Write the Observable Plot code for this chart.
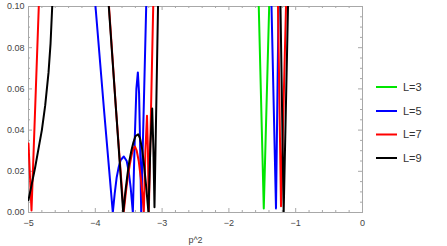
<!DOCTYPE html>
<html><head><meta charset="utf-8">
<script src="https://cdn.jsdelivr.net/npm/d3@7"></script>
<script src="https://cdn.jsdelivr.net/npm/@observablehq/plot@0.6"></script>
<style>
body{margin:0;background:#fff;font-family:"Liberation Sans",Arial,sans-serif}
#chart{position:relative;width:447px;height:246px}
</style>
</head><body><div id="chart"></div>
<script>
// Series (null = break where the curve leaves the visible range)
const seriesNames = ["L=3", "L=5", "L=7", "L=9"];
const seriesColors = ["#00e600", "#0000ff", "#ff0000", "#000000"];

const L3_x = [-1.56, -1.553, -1.478, -1.397, -1.39];
const L3_y = [0.11, 0.10, 0.002, 0.10, 0.11];

const L5_x = [-4.004, -3.997, -3.87, -3.738, -3.71, -3.68, -3.65, -3.62, -3.573, -3.53, -3.50, -3.47, -3.438,
  -3.41, -3.385, -3.363, -3.345, -3.33, -3.313, -3.238, -3.232,
  null, -1.37, -1.362, -1.295, -1.257, -1.255];
const L5_y = [0.105, 0.10, 0.05, 0.0, 0.009, 0.017, 0.022, 0.0255, 0.0272, 0.025, 0.020, 0.012, 0.0,
  0.035, 0.060, 0.068, 0.058, 0.035, 0.0, 0.10, 0.11,
  null, 0.11, 0.10, 0.002, 0.10, 0.11];

const L7_x = [-5.0, -4.955, -4.846, -4.835, null,
  -3.81, -3.795, -3.69, -3.575, -3.545, -3.515, -3.485, -3.455, -3.43, -3.406, -3.38, -3.35, -3.32, -3.295, -3.274,
  -3.25, -3.226, -3.212, -3.199, -3.133, -3.125,
  null, -1.27, -1.265, -1.220, -1.145, -1.14];
const L7_y = [0.0335, 0.001, 0.10, 0.11, null,
  0.11, 0.10, 0.05, 0.0, 0.009, 0.017, 0.023, 0.028, 0.031, 0.032, 0.030, 0.025, 0.017, 0.009, 0.0,
  0.030, 0.047, 0.030, 0.0, 0.10, 0.11,
  null, 0.11, 0.10, 0.003, 0.10, 0.11];

const L9_x = [-5.0, -4.95, -4.90, -4.85, -4.80, -4.75, -4.70, -4.67, -4.645, -4.63, null,
  -3.81, -3.798, -3.69, -3.582, -3.55, -3.52, -3.49, -3.46, -3.43, -3.40, -3.358, -3.33, -3.30, -3.27, -3.24, -3.204,
  -3.175, -3.148, -3.13, -3.114, -3.061, -3.05,
  null, -1.232, -1.228, -1.180, -1.115, -1.11];
const L9_y = [0.006, 0.014, 0.022, 0.031, 0.040, 0.052, 0.068, 0.082, 0.10, 0.11, null,
  0.11, 0.10, 0.05, 0.0, 0.010, 0.018, 0.025, 0.030, 0.034, 0.037, 0.038, 0.036, 0.031, 0.023, 0.013, 0.0,
  0.033, 0.0505, 0.030, 0.0026, 0.10, 0.11,
  null, 0.11, 0.10, 0.0, 0.10, 0.11];

const xMajor = [-5, -4, -3, -2, -1, 0];
const yMajor = [0, 0.02, 0.04, 0.06, 0.08, 0.10];
const xMinor = d3.range(-5, 0.001, 0.2).map(v => +v.toFixed(2)).filter(v => !xMajor.includes(v));
const yMinor = d3.range(0, 0.1001, 0.005).map(v => +v.toFixed(3)).filter(v => !yMajor.some(m => Math.abs(m - v) < 1e-9));

const seriesX = [L3_x, L5_x, L7_x, L9_x];
const seriesY = [L3_y, L5_y, L7_y, L9_y];
const rows = [];
seriesNames.forEach((name, i) => {
  seriesX[i].forEach((x, j) => rows.push({series: name, x, y: seriesY[i][j]}));
});

const W = 447, H = 246, mL = 28, mR = 85, mT = 6, mB = 34;
const innerW = W - mL - mR, innerH = H - mT - mB;
const frameColor = "#a8a8a8";
const textColor = "#444";

const chart = Plot.plot({
  width: W, height: H,
  marginLeft: mL, marginRight: mR, marginTop: mT, marginBottom: mB,
  style: {fontFamily: "Liberation Sans, Arial, sans-serif", fontSize: "9px", color: textColor, background: "#fff"},
  x: {domain: [-5, 0], label: null},
  y: {domain: [0, 0.1], label: null},
  color: {domain: seriesNames, range: seriesColors},
  marks: [
    Plot.frame({stroke: frameColor}),
    Plot.tickX(xMajor, {x: d => d, insetTop: innerH - 4, stroke: frameColor}),
    Plot.tickX(xMinor, {x: d => d, insetTop: innerH - 2, stroke: frameColor}),
    Plot.tickX(xMajor, {x: d => d, insetBottom: innerH - 4, stroke: frameColor}),
    Plot.tickX(xMinor, {x: d => d, insetBottom: innerH - 2, stroke: frameColor}),
    Plot.tickY(yMajor, {y: d => d, insetRight: innerW - 4, stroke: frameColor}),
    Plot.tickY(yMinor, {y: d => d, insetRight: innerW - 2, stroke: frameColor}),
    Plot.tickY(yMajor, {y: d => d, insetLeft: innerW - 4, stroke: frameColor}),
    Plot.tickY(yMinor, {y: d => d, insetLeft: innerW - 2, stroke: frameColor}),
    Plot.line(rows, {x: "x", y: "y", z: "series", stroke: "series", strokeWidth: 2, clip: true}),
    Plot.axisX({ticks: xMajor, tickSize: 0, tickPadding: 7, fill: textColor,
      tickFormat: d => d === 0 ? "0" : "\u2212" + Math.abs(d),
      label: "p^2", labelAnchor: "center", labelOffset: 30, labelArrow: "none"}),
    Plot.axisY({ticks: yMajor, tickSize: 0, tickPadding: 4, fill: textColor,
      tickFormat: d3.format(".2f"), label: null})
  ]
});

document.getElementById("chart").appendChild(chart);

// Legend on the right
const svg = d3.select(chart);
const lg = svg.append("g").attr("font-family", "Liberation Sans, Arial, sans-serif")
  .attr("font-size", 11).attr("text-anchor", "start");
const legendY = [87, 111, 134.5, 158];
seriesNames.forEach((name, i) => {
  lg.append("line").attr("x1", 376).attr("x2", 397).attr("y1", legendY[i]).attr("y2", legendY[i])
    .attr("stroke", seriesColors[i]).attr("stroke-width", 2);
  lg.append("text").attr("x", 403).attr("y", legendY[i]).attr("dy", "0.36em")
    .attr("text-anchor", "start").attr("fill", "#333").text(name);
});
</script>
</body></html>
